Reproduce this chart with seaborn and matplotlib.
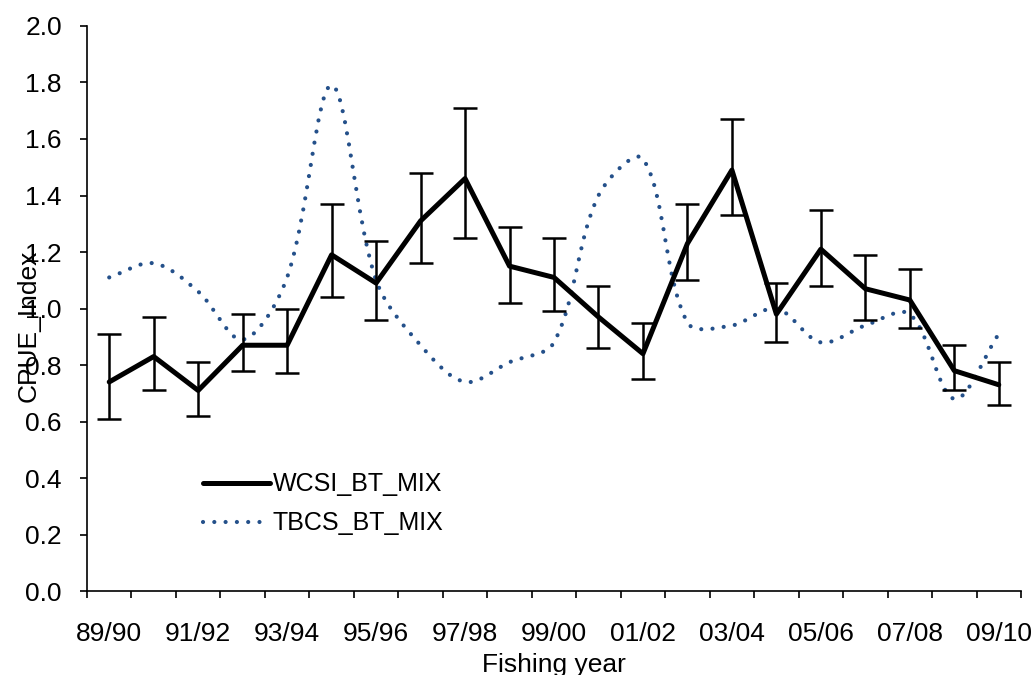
import numpy as np
import pandas as pd
import matplotlib
matplotlib.use('Agg')
import matplotlib.pyplot as plt
from matplotlib.path import Path
from matplotlib.patches import PathPatch
from matplotlib.lines import Line2D
import seaborn as sns

# --- dados ---
anos = ['89/90', '90/91', '91/92', '92/93', '93/94', '94/95', '95/96', '96/97', '97/98', '98/99', '99/00',
        '00/01', '01/02', '02/03', '03/04', '04/05', '05/06', '06/07', '07/08', '08/09', '09/10']
wcsi = [0.74, 0.83, 0.71, 0.87, 0.87, 1.19, 1.09, 1.31, 1.46, 1.15, 1.11,
        0.97, 0.84, 1.23, 1.49, 0.98, 1.21, 1.07, 1.03, 0.78, 0.73]
wcsi_inf = [0.61, 0.71, 0.62, 0.78, 0.77, 1.04, 0.96, 1.16, 1.25, 1.02, 0.99,
            0.86, 0.75, 1.10, 1.33, 0.88, 1.08, 0.96, 0.93, 0.71, 0.66]
wcsi_sup = [0.91, 0.97, 0.81, 0.98, 1.00, 1.37, 1.24, 1.48, 1.71, 1.29, 1.25,
            1.08, 0.95, 1.37, 1.67, 1.09, 1.35, 1.19, 1.14, 0.87, 0.81]
tbcs = [1.11, 1.16, 1.06, 0.89, 1.11, 1.79, 1.10, 0.87, 0.74, 0.81, 0.88,
        1.40, 1.53, 0.95, 0.94, 1.00, 0.88, 0.94, 0.98, 0.68, 0.91]
rotulos_y = [0.0, 0.2, 0.4, 0.6, 0.8, 1.0, 1.2, 1.4, 1.6, 1.8, 2.0]

azul = '#24508a'
pontilhado = (0, (0.01, 2.7))

sns.set_style('ticks')
plt.rcParams['font.family'] = ['Liberation Sans', 'DejaVu Sans']
plt.rcParams['text.color'] = 'black'
plt.rcParams['axes.labelcolor'] = 'black'

df = pd.DataFrame({'pos': np.arange(len(anos)), 'ano': anos, 'wcsi': wcsi,
                   'inf': wcsi_inf, 'sup': wcsi_sup, 'tbcs': tbcs})

fig = plt.figure(figsize=(10.33, 6.75), dpi=100)
ax = fig.add_axes([0.0842, 0.1244, 0.9042, 0.8371])
ax.set_xlim(-0.5, len(anos) - 0.5)
ax.set_ylim(0, 2.0)

# --- linha WCSI com barras de erro ---
ax.errorbar(df['pos'], df['wcsi'], yerr=[df['wcsi'] - df['inf'], df['sup'] - df['wcsi']],
            fmt='none', ecolor='black', elinewidth=1.8, capsize=8.5, capthick=1.8, zorder=3)
sns.lineplot(data=df, x='pos', y='wcsi', color='black', linewidth=3.6, ax=ax, zorder=4)

# --- linha TBCS suavizada (curva Bezier como no Excel) ---
pts = ax.transData.transform(np.column_stack([df['pos'], df['tbcs']]))
verts = [pts[0]]
codes = [Path.MOVETO]
n = len(pts)
for i in range(n - 1):
    p0 = pts[max(i - 1, 0)]
    p1 = pts[i]
    p2 = pts[i + 1]
    p3 = pts[min(i + 2, n - 1)]
    d01 = np.hypot(*(p1 - p0))
    d12 = np.hypot(*(p2 - p1))
    d23 = np.hypot(*(p3 - p2))
    c1 = p1 + (p2 - p0) * d12 / (3 * (d01 + d12)) if d01 > 0 else p1 + (p2 - p1) / 3
    c2 = p2 - (p3 - p1) * d12 / (3 * (d12 + d23)) if d23 > 0 else p2 - (p2 - p1) / 3
    verts += [c1, c2, p2]
    codes += [Path.CURVE4] * 3
verts = ax.transData.inverted().transform(np.array(verts))
curva = PathPatch(Path(verts, codes), facecolor='none', edgecolor=azul, linewidth=3.0,
                  linestyle=pontilhado, capstyle='round', zorder=2)
ax.add_patch(curva)

# --- eixos ---
sns.despine(ax=ax)
for lado in ['left', 'bottom']:
    ax.spines[lado].set_color('black')
    ax.spines[lado].set_linewidth(1.2)

ax.set_yticks(rotulos_y)
ax.set_yticklabels([f'{v:.1f}' for v in rotulos_y])
ax.tick_params(axis='y', direction='out', length=5, width=1.2, pad=13, labelsize=19, colors='black')

ax.set_xticks(df['pos'][::2])
ax.set_xticklabels(df['ano'][::2])
ax.set_xticks(np.arange(-0.5, len(anos)), minor=True)
ax.tick_params(axis='x', which='major', length=0, pad=22, labelsize=19, colors='black')
ax.tick_params(axis='x', which='minor', direction='out', length=5, width=1.2, colors='black')

ax.set_xlabel('Fishing year', fontsize=19, labelpad=5, color='black')
ax.set_ylabel('CPUE_Index', fontsize=19, color='black')
ax.yaxis.set_label_coords(-0.050, 0.47)

# --- legenda ---
alcas = [Line2D([], [], color='black', linewidth=3.6),
         Line2D([], [], color=azul, linewidth=3.0, linestyle=pontilhado, dash_capstyle='round')]
ax.legend(alcas, ['WCSI_BT_MIX', 'TBCS_BT_MIX'], loc='upper left', bbox_to_anchor=(0.124, 0.21),
          frameon=False, fontsize=18, handlelength=2.7, handletextpad=0.1, labelspacing=0.6,
          borderpad=0, borderaxespad=0, labelcolor='black')

fig.savefig('out.png', dpi=100)
